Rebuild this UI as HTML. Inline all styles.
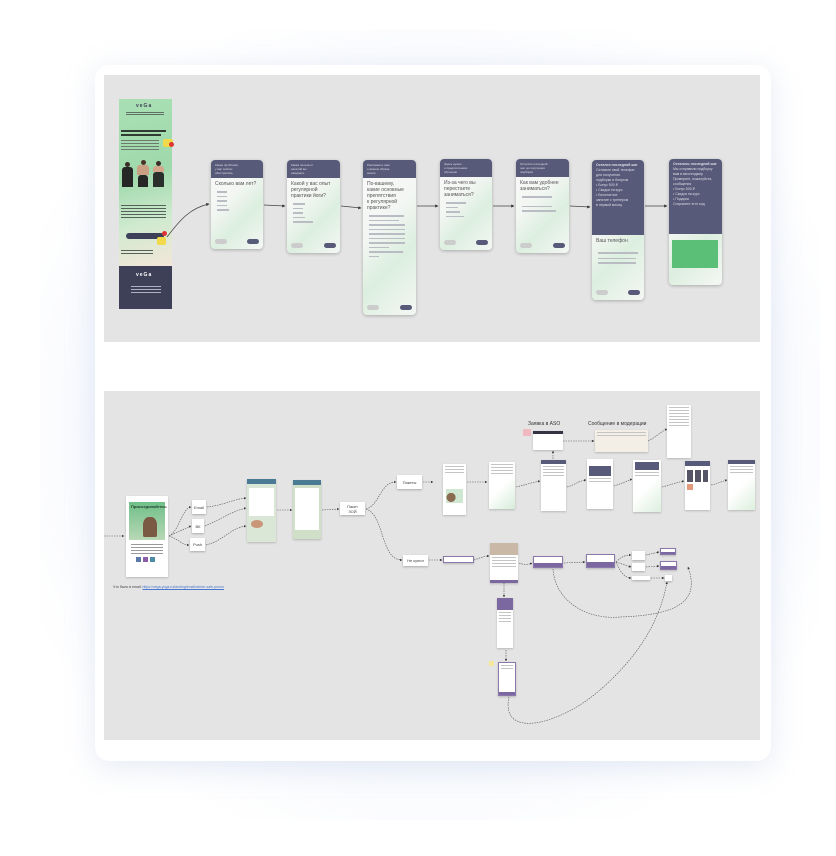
<!DOCTYPE html>
<html><head><meta charset="utf-8">
<style>
*{box-sizing:border-box;margin:0;padding:0}
body{width:836px;height:856px;overflow:hidden;background:#fff;font-family:"Liberation Sans","Noto Sans CJK SC",sans-serif;position:relative}
.bgl{position:absolute;left:40px;top:30px;width:780px;height:790px;background:radial-gradient(ellipse at 50% 50%,#eef3fb 0%,#f6f8fd 55%,#ffffff 80%)}
.card{position:absolute;left:95px;top:65px;width:676px;height:696px;background:#fff;border-radius:14px;box-shadow:0 6px 30px rgba(150,170,210,.25)}
.panel{position:absolute;background:#e4e4e4}
.a{position:absolute}
.q{position:absolute;border-radius:4px;overflow:hidden;background:linear-gradient(135deg,#fafafa 0%,#f3f6f3 40%,#dcefdf 65%,#f4f7f4 100%);box-shadow:0 1px 3px rgba(0,0,0,.25)}
.q .h{background:#575a78;color:#dcdde8;font-size:3px;padding:3px 4px;line-height:4px}
.q .t{font-size:5px;color:#555;padding:3px 4px 1px;line-height:6px}
.ln{height:1.5px;background:#b9bcc3;margin:3px 4px 0 6px}
.btn{position:absolute;bottom:5px;height:5px;width:12px;border-radius:3px}
.ph{position:absolute;background:#fff;box-shadow:0 1px 2px rgba(0,0,0,.2);overflow:hidden}
.bx{position:absolute;background:#fff;box-shadow:0 1px 2px rgba(0,0,0,.25);font-size:4px;color:#444;display:flex;align-items:center;justify-content:center;text-align:center;line-height:5px}
.pu{position:absolute;background:#fff;border:1px solid #8a78ab;box-shadow:0 1px 2px rgba(0,0,0,.2)}
.pu i{position:absolute;left:0;right:0;bottom:0;height:40%;background:#7b68a0}
.g{height:1px;background:#c4c4c4;margin:2px 2px 0}
.fig{position:absolute;border-radius:3px 3px 0 0}
</style></head><body>
<div class="bgl"></div>
<div class="card"></div>
<div class="panel" style="left:104px;top:75px;width:656px;height:267px"></div>
<div class="panel" style="left:104px;top:391px;width:656px;height:349px"></div>

<!-- top: landing -->
<div class="a" style="left:119px;top:99px;width:53px;height:167px;background:linear-gradient(165deg,#a9dfb4 0%,#9fd9ab 45%,#cfeacf 72%,#f3e6d8 100%)"></div>
<div class="a" style="left:119px;top:266px;width:53px;height:43px;background:#3e4058"></div>
<div class="a" style="left:136px;top:103px;font-size:5px;color:#3e4058;letter-spacing:1px;font-weight:bold">veGa</div>
<div class="a" style="left:136px;top:272px;font-size:5px;color:#fff;letter-spacing:1px;font-weight:bold">veGa</div>
<div class="a" style="left:126px;top:112px;width:38px;height:4px;background:repeating-linear-gradient(#5f6f63 0 1px,transparent 1px 2px)"></div>
<div class="a" style="left:121px;top:130px;width:45px;height:2px;background:#2f3c33"></div>
<div class="a" style="left:121px;top:134px;width:40px;height:2px;background:#2f3c33"></div>
<div class="a" style="left:121px;top:140px;width:38px;height:12px;background:repeating-linear-gradient(#6c7a70 0 1px,transparent 1px 3px)"></div>
<!-- figures -->
<div class="a" style="left:125px;top:162px;width:5px;height:5px;border-radius:50%;background:#3a2c26"></div>
<div class="fig" style="left:122px;top:167px;width:11px;height:20px;background:#262626"></div>
<div class="a" style="left:141px;top:160px;width:5px;height:5px;border-radius:50%;background:#4a3328"></div>
<div class="fig" style="left:137px;top:165px;width:12px;height:10px;background:#caa084"></div>
<div class="fig" style="left:138px;top:175px;width:10px;height:12px;background:#262626"></div>
<div class="a" style="left:156px;top:161px;width:5px;height:5px;border-radius:50%;background:#3a2c26"></div>
<div class="fig" style="left:153px;top:166px;width:11px;height:6px;background:#d2a78b"></div>
<div class="fig" style="left:153px;top:172px;width:11px;height:15px;background:#2a2f2c"></div>
<div class="a" style="left:121px;top:205px;width:45px;height:14px;background:repeating-linear-gradient(#55625a 0 1px,transparent 1px 3px)"></div>
<div class="a" style="left:126px;top:233px;width:38px;height:6px;border-radius:3px;background:#3e4058"></div>
<div class="a" style="left:163px;top:139px;width:10px;height:8px;background:#f2d94a;border-radius:2px"></div>
<div class="a" style="left:169px;top:142px;width:5px;height:5px;background:#d33;border-radius:50%"></div>
<div class="a" style="left:157px;top:237px;width:9px;height:8px;background:#f2d94a;border-radius:2px"></div>
<div class="a" style="left:162px;top:231px;width:5px;height:5px;background:#d33;border-radius:50%"></div>
<div class="a" style="left:121px;top:250px;width:32px;height:5px;background:repeating-linear-gradient(#55625a 0 1px,transparent 1px 3px)"></div>
<div class="a" style="left:131px;top:286px;width:30px;height:8px;background:repeating-linear-gradient(#aeb0c6 0 1px,transparent 1px 3px)"></div>

<!-- quiz cards -->
<div class="q" style="left:211px;top:160px;width:52px;height:89px"><div class="h">Какая проблема<br>у вас сейчас<br>обострилась</div><div class="t">Сколько вам лет?</div><div class="ln" style="width:10px"></div><div class="ln" style="width:10px"></div><div class="ln" style="width:10px"></div><div class="ln" style="width:10px"></div><div class="ln" style="width:12px"></div><div class="btn" style="left:4px;background:#ccc"></div><div class="btn" style="right:4px;background:#575a78"></div></div>
<div class="q" style="left:287px;top:160px;width:53px;height:93px"><div class="h">Какая польза от<br>занятий вы<br>ожидаете</div><div class="t">Какой у вас опыт<br>регулярной<br>практики йоги?</div><div class="ln" style="width:12px"></div><div class="ln" style="width:10px"></div><div class="ln" style="width:10px"></div><div class="ln" style="width:12px"></div><div class="ln" style="width:20px"></div><div class="btn" style="left:4px;background:#ccc"></div><div class="btn" style="right:4px;background:#575a78"></div></div>
<div class="q" style="left:363px;top:160px;width:53px;height:155px"><div class="h">Расскажите нам<br>о вашем образе<br>жизни</div><div class="t">По-вашему,<br>какие основные<br>препятствия<br>к регулярной<br>практике?</div><div class="ln" style="width:35px"></div><div class="ln" style="width:30px"></div><div class="ln" style="width:36px"></div><div class="ln" style="width:36px"></div><div class="ln" style="width:36px"></div><div class="ln" style="width:36px"></div><div class="ln" style="width:36px"></div><div class="ln" style="width:20px"></div><div class="ln" style="width:34px"></div><div class="ln" style="width:10px"></div><div class="btn" style="left:4px;background:#ccc"></div><div class="btn" style="right:4px;background:#575a78"></div></div>
<div class="q" style="left:440px;top:159px;width:52px;height:91px"><div class="h">Здесь нужно<br>о предпочтениях<br>обучения</div><div class="t">Из-за чего вы<br>перестаете<br>заниматься?</div><div class="ln" style="width:20px"></div><div class="ln" style="width:12px"></div><div class="ln" style="width:14px"></div><div class="ln" style="width:18px"></div><div class="btn" style="left:4px;background:#ccc"></div><div class="btn" style="right:4px;background:#575a78"></div></div>
<div class="q" style="left:516px;top:159px;width:53px;height:94px"><div class="h">Остался последний<br>шаг до получения<br>подборки</div><div class="t">Как вам удобнее<br>заниматься?</div><div class="ln" style="width:30px"></div><div class="ln" style="width:30px;margin-top:8px"></div><div class="ln" style="width:34px"></div><div class="btn" style="left:4px;background:#ccc"></div><div class="btn" style="right:4px;background:#575a78"></div></div>
<div class="q" style="left:592px;top:160px;width:52px;height:140px"><div class="h" style="height:75px;line-height:5px;font-size:3.5px"><b>Остался последний шаг</b><br>Оставьте свой телефон<br>для получения<br>подборки и бонусов<br>• Бонус 500 ₽<br>• Скидка на курс<br>• Бесплатное<br>  занятие с тренером<br>  в первый месяц</div><div class="t">Ваш телефон</div><div class="ln" style="width:40px;margin-top:7px"></div><div class="ln" style="width:38px;margin-top:4px"></div><div class="ln" style="width:38px"></div><div class="btn" style="left:4px;background:#ccc"></div><div class="btn" style="right:4px;background:#575a78"></div></div>
<div class="q" style="left:669px;top:159px;width:53px;height:126px"><div class="h" style="height:75px;line-height:5px;font-size:3.5px"><b>Осталось последний шаг</b><br>Мы отправили подборку<br>вам в мессенджер<br>Проверьте, пожалуйста,<br>сообщения<br>• Бонус 500 ₽<br>• Скидка на курс<br>• Подарок<br>Сохраните этот код</div><div class="a" style="left:3px;top:81px;width:46px;height:28px;background:#5cbf78"></div></div>

<svg class="a" style="left:0;top:0" width="836" height="856">
<defs><marker id="m" markerWidth="4" markerHeight="4" refX="3.5" refY="2" orient="auto"><path d="M0,0L4,2L0,4z" fill="#333"/></marker></defs>
<g stroke="#444" stroke-width="0.8" fill="none" marker-end="url(#m)">
<path d="M167,237 C180,220 190,208 209,204"/>
<path d="M264,205 L285,206"/>
<path d="M341,206 L361,208"/>
<path d="M417,206 L438,206"/>
<path d="M493,206 L514,206"/>
<path d="M570,206 L590,207"/>
<path d="M645,206 L667,206"/>
</g>
<g stroke="#555" stroke-width="0.6" fill="none" stroke-dasharray="1.5 1" marker-end="url(#m)">
<path d="M104,536 L124,536"/>
<path d="M169,536 C180,530 182,508 191,507"/>
<path d="M169,536 L191,526"/>
<path d="M169,536 C180,540 182,545 189,545"/>
<path d="M207,507 C225,505 230,500 246,498"/>
<path d="M205,526 C220,520 230,512 246,508"/>
<path d="M206,545 C225,540 230,528 246,526"/>
<path d="M277,510 L292,510"/>
<path d="M322,510 L339,509"/>
<path d="M366,509 C380,505 380,482 396,482"/>
<path d="M366,509 C385,515 380,560 402,560"/>
<path d="M423,482 L433,482"/>
<path d="M467,482 L487,482"/>
<path d="M516,487 C525,485 530,483 540,481"/>
<path d="M567,487 C575,485 578,481 586,480"/>
<path d="M614,486 C620,484 625,482 632,479"/>
<path d="M662,487 C670,485 675,483 684,481"/>
<path d="M711,485 C717,484 720,482 727,480"/>
<path d="M563,441 L594,441"/>
<path d="M648,441 C655,438 660,432 667,429"/>
<path d="M553,459 L553,451"/>
<path d="M429,560 L442,560"/>
<path d="M474,560 C480,558 484,556 489,556"/>
<path d="M519,563 C524,565 528,565 532,563"/>
<path d="M564,563 L585,562"/>
<path d="M616,562 C622,556 626,555 631,555"/>
<path d="M616,562 L631,567"/>
<path d="M616,562 C620,572 625,578 631,578"/>
<path d="M646,555 L659,552"/>
<path d="M646,567 L659,566"/>
<path d="M651,578 L664,578"/>
<path d="M504,583 L504,597"/>
<path d="M506,650 L506,661"/>
<path d="M553,569 C555,600 585,620 620,617 C680,615 700,600 688,567"/>
<path d="M509,697 C500,740 560,725 600,690 C640,655 660,620 667,582"/>
</g>
</svg>

<!-- bottom left -->
<div class="ph" style="left:126px;top:496px;width:42px;height:81px"><div style="margin:6px 3px 0;height:38px;background:linear-gradient(#6fbf88,#b9d8b6)"><div style="font-size:4px;font-weight:bold;color:#1f3d2a;padding:2px">Присоединяйтесь</div><div style="margin:6px 0 0 14px;width:14px;height:20px;background:#7a5a43;border-radius:40% 40% 10% 10%"></div></div><div style="margin:4px 5px 0;height:10px;background:repeating-linear-gradient(#999 0 1px,transparent 1px 3px)"></div><div style="margin:3px 0 0 10px;display:flex;gap:2px"><span style="width:5px;height:5px;background:#5a78a8"></span><span style="width:5px;height:5px;background:#8a5fa8"></span><span style="width:5px;height:5px;background:#4c8aa8"></span></div></div>
<div class="a" style="left:113px;top:585px;font-size:3.5px;color:#444">Что было в email: <span style="color:#4a78d0;text-decoration:underline">https://vega-yoga.ru/landing/email/winter-sale-promo</span></div>
<div class="bx" style="left:192px;top:500px;width:14px;height:14px">Email</div>
<div class="bx" style="left:192px;top:519px;width:12px;height:14px">ВК</div>
<div class="bx" style="left:190px;top:538px;width:15px;height:13px">Push</div>
<div class="ph" style="left:247px;top:479px;width:29px;height:63px;background:#dbe7d6"><div style="height:5px;background:#4a7a94"></div><div style="margin:4px 2px;height:28px;background:#fff"></div><div style="margin:0 4px;width:12px;height:8px;background:#c9967a;border-radius:50%"></div></div>
<div class="ph" style="left:293px;top:480px;width:28px;height:59px;background:#cfdfc8"><div style="height:5px;background:#4a7a94"></div><div style="margin:3px 2px;height:42px;background:#fff"></div></div>
<div class="bx" style="left:340px;top:502px;width:25px;height:13px">Пакет<br>ЗОЙ</div>
<div class="bx" style="left:397px;top:475px;width:25px;height:14px">Пакеты</div>
<div class="bx" style="left:403px;top:555px;width:25px;height:11px">Не купил</div>

<!-- bottom right phones -->
<div class="ph" style="left:443px;top:464px;width:23px;height:51px"><div class="g"></div><div class="g"></div><div class="g"></div><div style="margin:16px 3px 0;height:14px;background:radial-gradient(circle at 30% 60%,#8a6a50 0 30%,transparent 32%),#cfe6d1"></div></div>
<div class="ph" style="left:489px;top:462px;width:26px;height:47px;background:linear-gradient(135deg,#fff 50%,#d6ecd9)"><div class="g"></div><div class="g"></div><div class="g"></div><div class="g"></div></div>
<div class="ph" style="left:541px;top:460px;width:25px;height:51px"><div style="height:4px;background:#575a78"></div><div class="g"></div><div class="g"></div><div class="g"></div><div class="g"></div></div>
<div class="ph" style="left:587px;top:459px;width:26px;height:50px"><div style="margin:7px 2px 0;height:10px;background:#575a78"></div><div class="g"></div><div class="g"></div></div>
<div class="ph" style="left:633px;top:460px;width:28px;height:52px;background:linear-gradient(135deg,#fff 50%,#dcefdd)"><div style="margin:2px;height:8px;background:#575a78"></div><div class="g"></div><div class="g"></div></div>
<div class="ph" style="left:685px;top:461px;width:25px;height:49px"><div style="height:5px;background:#575a78"></div><div style="margin:4px 2px 0;height:12px;background:repeating-linear-gradient(90deg,#556 0 6px,#fff 6px 8px)"></div><div style="margin:2px 2px 0;width:6px;height:6px;background:#e29a7a"></div></div>
<div class="ph" style="left:728px;top:460px;width:27px;height:50px;background:linear-gradient(135deg,#fff 50%,#dcefdd)"><div style="height:4px;background:#575a78"></div><div class="g"></div><div class="g"></div><div class="g"></div></div>
<div class="a" style="left:528px;top:421px;font-size:5px;color:#333">Заявка в ASO</div>
<div class="a" style="left:588px;top:421px;font-size:5px;color:#333">Сообщение в модерации</div>
<div class="a" style="left:523px;top:429px;width:8px;height:7px;background:#f0b9c0"></div>
<div class="ph" style="left:533px;top:431px;width:30px;height:19px"><div style="height:3px;background:#334"></div></div>
<div class="ph" style="left:595px;top:430px;width:53px;height:22px;background:#f3efe6"><div class="g"></div><div class="g"></div></div>
<div class="ph" style="left:667px;top:405px;width:24px;height:53px"><div class="g"></div><div class="g"></div><div class="g"></div><div class="g"></div><div class="g"></div><div class="g"></div><div class="g"></div></div>

<!-- purple flow -->
<div class="pu" style="left:443px;top:556px;width:31px;height:7px"></div>
<div class="ph" style="left:490px;top:543px;width:28px;height:40px"><div style="height:12px;background:#c9b8a6"></div><div class="g"></div><div class="g"></div><div class="g"></div><div class="g"></div><div style="position:absolute;bottom:0;left:0;right:0;height:3px;background:#7b68a0"></div></div>
<div class="pu" style="left:533px;top:556px;width:30px;height:12px"><i></i></div>
<div class="pu" style="left:586px;top:554px;width:29px;height:14px"><i></i></div>
<div class="bx" style="left:632px;top:551px;width:13px;height:9px"></div>
<div class="bx" style="left:632px;top:563px;width:13px;height:8px"></div>
<div class="bx" style="left:632px;top:576px;width:18px;height:4px"></div>
<div class="pu" style="left:660px;top:548px;width:16px;height:7px"><i></i></div>
<div class="pu" style="left:660px;top:561px;width:17px;height:9px"><i></i></div>
<div class="bx" style="left:665px;top:575px;width:7px;height:6px"></div>
<div class="ph" style="left:497px;top:598px;width:16px;height:50px"><div style="height:12px;background:#7b68a0"></div><div class="g"></div><div class="g"></div><div class="g"></div><div class="g"></div></div>
<div class="ph" style="left:498px;top:662px;width:18px;height:34px;border:1px solid #8a78ab"><div class="g"></div><div class="g"></div><div style="position:absolute;bottom:0;left:0;right:0;height:3px;background:#7b68a0"></div></div>
<div class="a" style="left:489px;top:661px;width:5px;height:5px;background:#f5e79a"></div>
</body></html>
